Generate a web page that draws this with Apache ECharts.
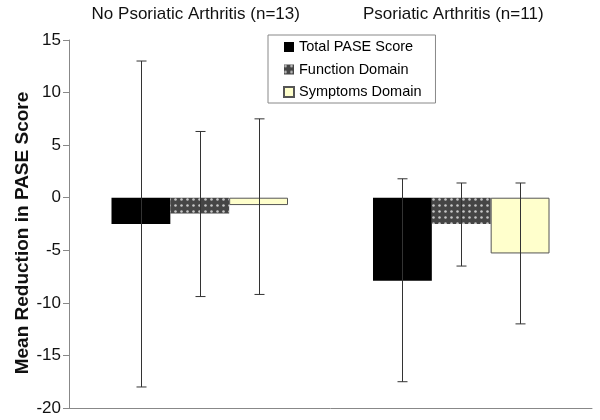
<!DOCTYPE html>
<html><head><meta charset="utf-8">
<script src="https://cdn.jsdelivr.net/npm/echarts@6/dist/echarts.min.js"></script>
<style>html,body{margin:0;padding:0;background:#fff}#c{width:600px;height:420px}</style>
</head><body><div id="c"></div>
<script>
const categories = ['No Psoriatic Arthritis (n=13)', 'Psoriatic Arthritis (n=11)'];
const seriesNames = ['Total PASE Score', 'Function Domain', 'Symptoms Domain'];
const totalMean = [-2.5, -7.9];
const totalLow = [-18.0, -17.5];
const totalHigh = [13.0, 1.8];
const functionMean = [-1.5, -2.5];
const functionLow = [-9.4, -6.5];
const functionHigh = [6.3, 1.4];
const symptomsMean = [-0.7, -5.3];
const symptomsLow = [-9.2, -12.0];
const symptomsHigh = [7.5, 1.4];
const yTicks = {min: -20, max: 15, interval: 5};

const means = [totalMean, functionMean, symptomsMean];
const lows = [totalLow, functionLow, symptomsLow];
const highs = [totalHigh, functionHigh, symptomsHigh];
const BARW = 0.225;
const FONT = 'Liberation Sans, Arial, sans-serif';

const chart = echarts.init(document.getElementById('c'), null, {renderer: 'canvas'});
const barStyles = [
  {color: '#000000'},
  {color: '#454545', decal: {symbol: 'circle', symbolSize: 0.85, dashArrayX: 3, dashArrayY: 3, color: 'rgba(255,255,255,0.7)', rotation: 0}},
  {color: '#ffffcc', borderColor: '#555555', borderWidth: 1}
];

const series = [];
seriesNames.forEach((name, k) => {
  series.push({
    name: name, type: 'bar', xAxisIndex: 0, barWidth: (BARW * 100) + '%', barGap: '0%',
    data: means[k], itemStyle: barStyles[k], z: 2
  });
});
seriesNames.forEach((name, k) => {
  series.push({
    type: 'custom', xAxisIndex: 0, z: 5, silent: true,
    data: categories.map((c, i) => [i, lows[k][i], highs[k][i]]),
    renderItem: function (params, api) {
      const band = api.size([1, 0])[0];
      const off = (k - 1) * BARW * band;
      const lo = api.coord([api.value(0), api.value(1)]);
      const hi = api.coord([api.value(0), api.value(2)]);
      const x = Math.round(lo[0] + off) + 0.5;
      const cap = 5;
      const st = {stroke: '#333', lineWidth: 1};
      return {type: 'group', children: [
        {type: 'line', shape: {x1: x, y1: hi[1], x2: x, y2: lo[1]}, style: st},
        {type: 'line', shape: {x1: x - cap, y1: hi[1], x2: x + cap, y2: hi[1]}, style: st},
        {type: 'line', shape: {x1: x - cap, y1: lo[1], x2: x + cap, y2: lo[1]}, style: st}
      ]};
    }
  });
});

chart.setOption({
  animation: false,
  textStyle: {fontFamily: FONT},
  grid: {left: 69, right: 8, top: 40, bottom: 12, containLabel: false},
  legend: {
    data: seriesNames, orient: 'vertical', left: 268, top: 35,
    itemWidth: 10, itemHeight: 10, itemGap: 6.5,
    borderColor: '#888', borderWidth: 1, padding: [4, 14, 3, 15],
    textStyle: {fontSize: 14.5, lineHeight: 16, color: '#000', fontFamily: FONT},
    icon: 'rect', selectedMode: false
  },
  xAxis: [
    {type: 'category', data: categories, position: 'top', axisLine: {show: false}, axisTick: {show: false},
     axisLabel: {interval: 0, fontSize: 17, color: '#111', margin: 17, fontFamily: FONT, hideOverlap: false,
       formatter: function (v, i) { return i === 0 ? '{a|' + v + '}' : '{b|' + v + '}'; },
       rich: {
         a: {fontSize: 17, color: '#111', fontFamily: FONT, padding: [0, 8, 0, 0]},
         b: {fontSize: 17, color: '#111', fontFamily: FONT, padding: [0, 16, 0, 0]}
       }}},
    {type: 'category', data: categories, axisLine: {onZero: true, lineStyle: {color: '#888', width: 1}},
     axisTick: {show: false}, axisLabel: {show: false}}
  ],
  yAxis: {
    type: 'value', min: yTicks.min, max: yTicks.max, interval: yTicks.interval,
    name: 'Mean Reduction in PASE Score', nameLocation: 'middle', nameGap: 37, nameMoveOverlap: false,
    nameTextStyle: {fontSize: 19, fontWeight: 'bold', color: '#111', fontFamily: FONT, padding: [0, 18, 0, 0]},
    axisLine: {show: true, onZero: false, lineStyle: {color: '#888'}},
    axisTick: {show: true, inside: false, length: 6, lineStyle: {color: '#888'}},
    axisLabel: {fontSize: 17, color: '#111', margin: 8, fontFamily: FONT},
    splitLine: {show: false}
  },
  series: series
});
</script></body></html>
